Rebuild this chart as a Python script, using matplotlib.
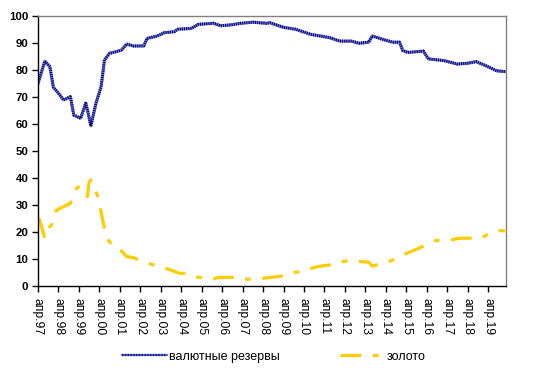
import matplotlib
matplotlib.use("Agg")
import matplotlib.pyplot as plt
from matplotlib.lines import Line2D
from matplotlib.legend_handler import HandlerLine2D

# month index since April 1997
res_month = [0, 4, 7, 9, 12, 15, 19, 21, 25, 28, 29, 31, 34, 37, 39, 42, 46, 49, 52, 56,
             62, 64, 70, 74, 80, 82, 90, 94, 103, 107, 113, 119, 126, 134, 136, 144, 151, 160, 171, 177,
             184, 188, 194, 196, 202, 208, 212, 214, 217, 226, 229, 238, 246, 252, 257, 263, 269, 274]
res_value = [75, 83.3, 81.2, 73.6, 71.4, 68.9, 70.1, 63.3, 62.1, 67.7, 65.2, 59.3, 67.7, 73.8, 83.7, 86.2, 86.8, 87.4, 89.6, 88.9,
             88.9, 91.7, 92.6, 93.8, 94.2, 95.1, 95.4, 96.9, 97.3, 96.4, 96.7, 97.3, 97.7, 97.3, 97.5, 95.8, 95.1, 93.2, 92.0, 90.7,
             90.7, 89.9, 90.3, 92.6, 91.4, 90.3, 90.3, 87.2, 86.5, 87.0, 84.1, 83.5, 82.2, 82.5, 83.1, 81.5, 79.7, 79.4]

gold_month = [0, 1, 4, 7, 8, 10, 12, 19, 21, 23, 25, 27, 29, 30, 31, 33, 35, 36, 38, 40,
              46, 49, 52, 56, 63, 74, 83, 87, 91, 94, 103, 105, 115, 123, 129, 134, 143, 146, 154, 164,
              171, 175, 184, 194, 196, 204, 209, 214, 222, 231, 233, 242, 247, 252, 260, 263, 270, 274]
gold_value = [25, 24.4, 17.7, 22, 22.6, 27.5, 28.5, 30.6, 34.6, 36.5, 36.8, 34, 33.1, 38.6, 39.3, 37, 33.1, 30.6, 24.2, 17.7,
              13.7, 13, 10.9, 10.5, 8.6, 6.8, 4.7, 4.7, 4.1, 3.2, 2.6, 3.1, 3.2, 2.5, 2.6, 3.0, 3.7, 4.7, 5.3, 7.2,
              7.8, 8.8, 9.4, 8.8, 7.4, 8.6, 9.9, 11.5, 13.6, 16.2, 16.8, 17.0, 17.7, 17.7, 17.7, 18.9, 20.5, 20.4]

tick_labels = ["апр.97", "апр.98", "апр.99", "апр.00", "апр.01", "апр.02", "апр.03", "апр.04",
               "апр.05", "апр.06", "апр.07", "апр.08", "апр.09", "апр.10", "апр.11", "апр.12",
               "апр.13", "апр.14", "апр.15", "апр.16", "апр.17", "апр.18", "апр.19"]
series_names = ["валютные резервы", "золото"]

plt.rcParams['font.family'] = ['Liberation Sans', 'DejaVu Sans']

W, H = 542, 374
fig = plt.figure(figsize=(W / 100, H / 100), dpi=100)
ax = fig.add_axes([38 / W, (H - 286) / H, (506 - 38) / W, (286 - 16) / H])

navy = '#000080'
light = '#7880c8'
gold = '#ffcc00'
ax.plot(res_month, res_value, color=light, lw=2.2, solid_joinstyle='round')
ax.plot(res_month, res_value, color=navy, lw=2.2, linestyle=(0, (0.35, 0.35)))
ax.plot(gold_month, gold_value, color=gold, lw=2.3, dashes=(6.5, 3.6, 1.8, 3.6))

ax.set_xlim(0, 274.5)
ax.set_ylim(0, 100)
ax.set_yticks(range(0, 101, 10))
ax.set_xticks([12 * i for i in range(len(tick_labels))])
ax.set_xticklabels(tick_labels, rotation=270, fontsize=8.7, va='top', ha='center')
for t in ax.get_yticklabels():
    t.set_fontweight('bold')
    t.set_fontsize(8.2)

ax.tick_params(axis='both', direction='out', length=4, width=1, color='black')
ax.tick_params(axis='y', pad=3)
ax.tick_params(axis='x', pad=5)
for s in ['left', 'bottom']:
    ax.spines[s].set_color('black')
    ax.spines[s].set_linewidth(1)
for s in ['top', 'right']:
    ax.spines[s].set_color('#808080')
    ax.spines[s].set_linewidth(1)


class DoubleHandler(HandlerLine2D):
    def create_artists(self, legend, orig_handle, xdescent, ydescent, width, height, fontsize, trans):
        arts = super().create_artists(legend, orig_handle, xdescent, ydescent, width, height, fontsize, trans)
        extra = []
        for a in arts:
            if isinstance(a, Line2D) and len(a.get_xdata()) > 1:
                b = Line2D(a.get_xdata(), a.get_ydata(), color=navy, lw=1.6, linestyle=(0, (0.35, 0.35)))
                b.set_transform(trans)
                extra.append(b)
        return list(arts) + extra


h1 = Line2D([], [], color=light, lw=1.6)
h2 = Line2D([], [], color=gold, lw=2.3, dashes=(6.5, 3.6, 1.8, 3.6))
fig.legend([h1, h2], series_names, loc='center', bbox_to_anchor=(0.505, 0.046),
           ncol=2, frameon=False, fontsize=9.0, handlelength=3.6, columnspacing=4.8,
           handletextpad=0.15, handler_map={h1: DoubleHandler()})

fig.savefig("out.png", dpi=100)
